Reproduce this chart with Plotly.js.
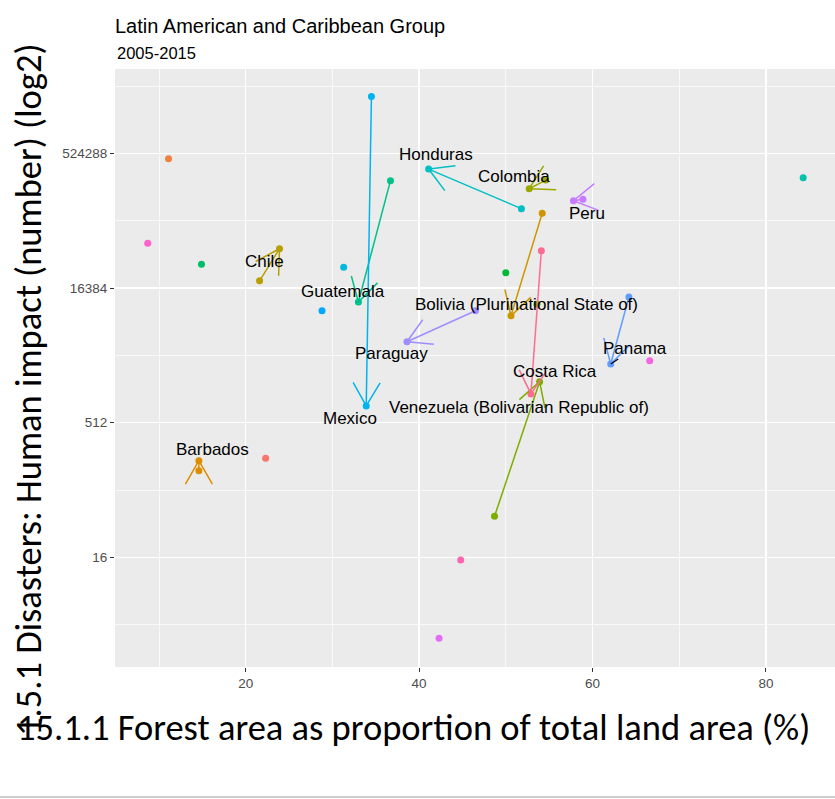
<!DOCTYPE html>
<html>
<head>
<meta charset="utf-8">
<script src="https://cdn.plot.ly/plotly-3.0.1.min.js"></script>
<style>
  html, body { margin: 0; padding: 0; background: #ffffff; }
  #chart { width: 835px; height: 799px; }
</style>
</head>
<body>
<div id="chart"></div>
<script>
// Countries observed in both years: the arrow runs from 2005 to 2015
const countries = [
  'Barbados', 'Bolivia (Plurinational State of)', 'Chile', 'Colombia', 'Costa Rica',
  'Guatemala', 'Honduras', 'Mexico', 'Panama', 'Paraguay', 'Peru',
  'Venezuela (Bolivarian Republic of)'
];
// 15.1.1 Forest area as proportion of total land area (%)
const forest2005 = [14.6, 54.2, 21.6, 54.6, 48.7, 36.7, 51.8, 34.5, 64.2, 46.5, 58.9, 54.1];
const forest2015 = [14.6, 50.6, 23.9, 52.7, 53.9, 33.0, 41.1, 33.9, 62.1, 38.6, 57.8, 52.9];
// 1.5.1 Disasters: Human impact (number)
const impact2005 = [149, 112500, 19770, 264000, 46, 260000, 126500, 2263000, 13030, 9150, 161300, 42900];
const impact2015 = [193, 8020, 45090, 211400, 1470, 11440, 350500, 788, 2320, 4120, 155000, 1074];
// position of each country in the 24-step hue wheel
const countryHue = [2, 3, 4, 5, 6, 10, 12, 14, 16, 17, 18, 23];

// Countries with a single observation in the period
const singleForest = [22.3, 11.1, 53.6, 50.0, 14.9, 84.3, 31.3, 28.8, 42.3, 66.6, 8.7, 44.8];
const singleImpact = [205, 456000, 10800, 24300, 30200, 281000, 28000, 9150, 2, 2530, 51800, 15];
const singleHue = [0, 1, 7, 8, 9, 11, 13, 15, 19, 20, 21, 22];

// Axis ticks
const xTickValues = [20, 40, 60, 80];
const xMinorValues = [10, 30, 50, 70];
const yTickValues = [16, 512, 16384, 524288];
const yMinorValues = [2.83, 90.5, 2896, 92682, 2965821];

// ---------------------------------------------------------------------------
// Styling / layout settings
const W = 835, H = 799;
const M = { l: 115, r: 0, t: 69, b: 132 };
const PW = W - M.l - M.r, PH = H - M.t - M.b;
const xRange = [4.925, 87.97];
const yRange = [-0.07, 22.135];          // log2 units
const kx = PW / (xRange[1] - xRange[0]); // px per x unit
const ky = PH / (yRange[1] - yRange[0]); // px per log2 unit
const HEAD = 27;                          // arrowhead length, px
const HEAD_ANGLE = Math.PI / 6;

// helpers: page pixel -> paper fraction
const paperX = px => (px - M.l) / PW;
const paperY = py => (H - M.b - py) / PH;

// label offsets from the 2015 point, px (right, up)
const labelShift = [
  [14, 11], [15, 11], [-15, -13], [-15, 12], [15, 10], [-15, 11],
  [7, 15], [-16, -13], [24, 16], [-15, -12], [14, -13], [-12, -14]
];
const connectedLabel = [false, false, false, false, false, false,
                        false, false, true, false, false, false];

const SANS = 'Liberation Sans, Arial, Helvetica, sans-serif';
const CAL = 'Carlito, Lato, Calibri, sans-serif';

// ggplot-style hue palette: hcl(h, c = 100, l = 65)
function hcl(h, c, l) {
  const hr = h * Math.PI / 180;
  const U = c * Math.cos(hr), V = c * Math.sin(hr);
  const Xn = 95.047, Yn = 100.0, Zn = 108.883;
  const den = Xn + 15 * Yn + 3 * Zn;
  const un = 4 * Xn / den, vn = 9 * Yn / den;
  const Y = l > 8 ? Yn * Math.pow((l + 16) / 116, 3) : Yn * l / 903.3;
  const u = U / (13 * l) + un, v = V / (13 * l) + vn;
  const X = Y * 9 * u / (4 * v);
  const Z = Y * (12 - 3 * u - 20 * v) / (4 * v);
  const x = X / 100, y = Y / 100, z = Z / 100;
  const lin = [
    3.2404542 * x - 1.5371385 * y - 0.4985314 * z,
   -0.9692660 * x + 1.8760108 * y + 0.0415560 * z,
    0.0556434 * x - 0.2040259 * y + 1.0572252 * z
  ];
  const hex = lin.map(c0 => {
    let g = c0 <= 0.0031308 ? 12.92 * c0 : 1.055 * Math.pow(c0, 1 / 2.4) - 0.055;
    g = Math.max(0, Math.min(1, g));
    return Math.round(g * 255).toString(16).padStart(2, '0');
  });
  return '#' + hex.join('');
}
const paletteSize = 24;
const hueColor = i => hcl(15 + 360 * i / paletteSize, 100, 65);

// arrowhead barbs at the 2015 end, computed in screen space
function barbs(x0, y0, x1, y1) {
  const dx = (x0 - x1) * kx, dy = (y0 - y1) * ky;
  const len = Math.hypot(dx, dy) || 1;
  const ux = dx / len, uy = dy / len;
  return [HEAD_ANGLE, -HEAD_ANGLE].map(a => {
    const rx = ux * Math.cos(a) - uy * Math.sin(a);
    const ry = ux * Math.sin(a) + uy * Math.cos(a);
    return [x1 + rx * HEAD / kx, y1 + ry * HEAD / ky];
  });
}

const traces = [];

// single-observation points
singleForest.forEach((f, i) => {
  traces.push({
    type: 'scatter', mode: 'markers',
    x: [f], y: [Math.log2(singleImpact[i])],
    marker: { color: hueColor(singleHue[i]), size: 7 },
    hoverinfo: 'skip', showlegend: false
  });
});

// both observations for each country
countries.forEach((name, i) => {
  traces.push({
    type: 'scatter', mode: 'markers', name: name,
    x: [forest2005[i], forest2015[i]],
    y: [Math.log2(impact2005[i]), Math.log2(impact2015[i])],
    marker: { color: hueColor(countryHue[i]), size: 7 },
    hoverinfo: 'skip', showlegend: false
  });
});

// arrows 2005 -> 2015
countries.forEach((name, i) => {
  const x0 = forest2005[i], x1 = forest2015[i];
  const y0 = Math.log2(impact2005[i]), y1 = Math.log2(impact2015[i]);
  const b = barbs(x0, y0, x1, y1);
  traces.push({
    type: 'scatter', mode: 'lines', name: name,
    x: [x0, x1, null, b[0][0], x1, b[1][0]],
    y: [y0, y1, null, b[0][1], y1, b[1][1]],
    line: { color: hueColor(countryHue[i]), width: 1.5 },
    hoverinfo: 'skip', showlegend: false
  });
});

// country labels next to the 2015 point
const annotations = countries.map((name, i) => {
  const base = {
    text: name, x: forest2015[i], y: Math.log2(impact2015[i]),
    xref: 'x', yref: 'y',
    font: { family: SANS, size: 17, color: '#000000' }
  };
  if (connectedLabel[i]) {
    return Object.assign(base, {
      showarrow: true, arrowhead: 0, arrowwidth: 1.2, arrowcolor: '#000000',
      ax: labelShift[i][0], ay: -labelShift[i][1], standoff: 0
    });
  }
  return Object.assign(base, {
    showarrow: false, xanchor: 'center', yanchor: 'middle',
    xshift: labelShift[i][0], yshift: labelShift[i][1]
  });
});

// subtitle
annotations.push({
  text: '2005-2015', xref: 'paper', yref: 'paper',
  x: 0, y: paperY(53), xanchor: 'left', yanchor: 'middle', showarrow: false,
  font: { family: SANS, size: 16.5, color: '#000000' }
});

// axis titles
annotations.push({
  text: '1.5.1 Disasters: Human impact (number) (log2)',
  textangle: -90, xref: 'paper', yref: 'paper',
  x: paperX(28), y: paperY(390),
  xanchor: 'center', yanchor: 'middle', showarrow: false,
  font: { family: CAL, size: 36.5, color: '#000000' }
});
annotations.push({
  text: '15.1.1 Forest area as proportion of total land area (%)',
  xref: 'paper', yref: 'paper',
  x: paperX(413), y: paperY(727),
  xanchor: 'center', yanchor: 'middle', showarrow: false,
  font: { family: CAL, size: 36.5, color: '#000000' }
});

const axisCommon = {
  ticks: 'outside', ticklen: 4, tickwidth: 1.1, tickcolor: '#333333',
  tickfont: { family: SANS, size: 13.5, color: '#4D4D4D' },
  showgrid: true, gridcolor: '#FFFFFF', gridwidth: 1.4,
  zeroline: false, showline: false, fixedrange: true
};

const layout = {
  width: W, height: H,
  margin: M,
  paper_bgcolor: '#FFFFFF',
  plot_bgcolor: '#EBEBEB',
  showlegend: false,
  title: {
    text: 'Latin American and Caribbean Group',
    xref: 'paper', x: 0, xanchor: 'left',
    yref: 'container', y: 1 - 26 / H, yanchor: 'middle',
    font: { family: SANS, size: 20, color: '#000000' }
  },
  xaxis: Object.assign({}, axisCommon, {
    range: xRange, tickmode: 'array', tickvals: xTickValues,
    ticktext: xTickValues.map(String),
    minor: { tickmode: 'array', tickvals: xMinorValues, showgrid: true,
             gridcolor: '#FFFFFF', gridwidth: 0.7, ticks: '' }
  }),
  yaxis: Object.assign({}, axisCommon, {
    range: yRange, tickmode: 'array', tickvals: yTickValues.map(Math.log2),
    ticktext: yTickValues.map(String),
    minor: { tickmode: 'array', tickvals: yMinorValues.map(Math.log2), showgrid: true,
             gridcolor: '#FFFFFF', gridwidth: 0.7, ticks: '' }
  }),
  annotations: annotations,
  shapes: [{
    type: 'line', xref: 'paper', yref: 'paper',
    x0: paperX(0), x1: 1, y0: paperY(797), y1: paperY(797),
    line: { color: '#CFCFCF', width: 2 }
  }]
};

Plotly.newPlot('chart', traces, layout, { staticPlot: true, displayModeBar: false });
</script>
</body>
</html>
